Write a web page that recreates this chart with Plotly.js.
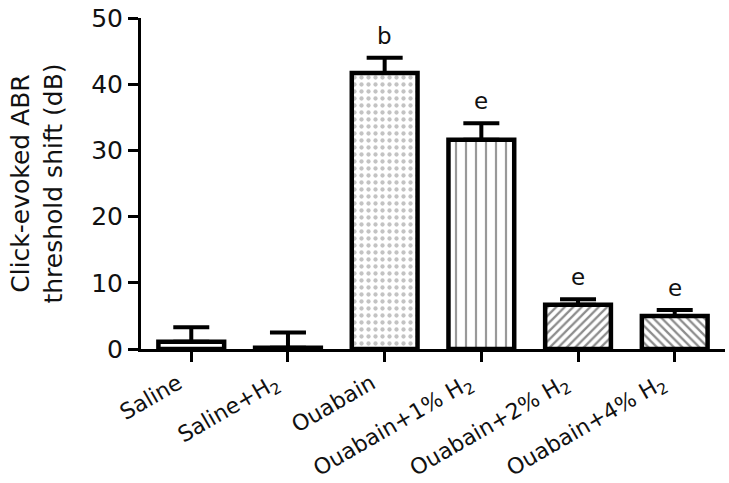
<!DOCTYPE html>
<html><head><meta charset="utf-8">
<script src="https://cdn.plot.ly/plotly-3.0.1.min.js"></script>
<style>html,body{margin:0;padding:0;background:#fff}#chart{width:729px;height:483px}</style>
</head><body><div id="chart"></div>
<script>
const categories = ["Saline", "Saline+H2", "Ouabain", "Ouabain+1% H2", "Ouabain+2% H2", "Ouabain+4% H2"];
const tickLabels = ["Saline", "Saline+H<sub>2</sub>", "Ouabain", "Ouabain+1% H<sub>2</sub>", "Ouabain+2% H<sub>2</sub>", "Ouabain+4% H<sub>2</sub>"];
const means = [1.1, 0.2, 41.7, 31.6, 6.7, 5.0];
const sem = [2.2, 2.3, 2.3, 2.5, 0.8, 0.9];
const sigLetters = ["", "", "b", "e", "e", "e"];
const patterns = ["", "", ".", "|", "/", "\\"];

const x = categories.map((c, i) => i);
const trace = {
  type: "bar",
  x: x,
  y: means,
  width: 0.68,
  marker: {
    color: "#ffffff",
    line: {color: "#000", width: 4.5},
    pattern: {shape: patterns, fgcolor: ["#000","#000","#888","#333","#1a1a1a","#1a1a1a"], bgcolor: "#fff",
              size: [8,8,7,10,6,6], solidity: [0.3,0.3,0.3,0.22,0.38,0.38], fillmode: "overlay"}
  },
  error_y: {type: "data", symmetric: false, array: sem, arrayminus: sem.map(() => 0), color: "#000", thickness: 4, width: 18},
  hoverinfo: "none"
};

const annotations = sigLetters.map((t, i) => t ? {
  x: i, y: means[i] + sem[i], yshift: 7, text: t, showarrow: false,
  font: {family: "DejaVu Sans", size: 23, color: "#111"}, xanchor: "center", yanchor: "bottom"
} : null).filter(a => a);

const layout = {
  width: 729, height: 483,
  margin: {l: 141, r: 4, t: 18, b: 134},
  paper_bgcolor: "#fff", plot_bgcolor: "#fff",
  showlegend: false,
  font: {family: "DejaVu Sans", color: "#111"},
  xaxis: {
    range: [-0.52, 5.52], tickmode: "array", tickvals: x, ticktext: tickLabels,
    tickangle: -30, ticks: "outside", ticklen: 10, tickwidth: 3, tickcolor: "#000",
    ticklabelshift: -13,
    showline: true, linecolor: "#000", linewidth: 3, showgrid: false, zeroline: false,
    tickfont: {family: "DejaVu Sans", size: 22, color: "#111"}
  },
  yaxis: {
    range: [0, 50], dtick: 10, ticks: "outside", ticklen: 10, tickwidth: 3, tickcolor: "#000",
    showline: true, linecolor: "#000", linewidth: 3, showgrid: false, zeroline: false,
    tickfont: {family: "DejaVu Sans", size: 25, color: "#111"},
    title: {text: "Click-evoked ABR<br>threshold shift (dB)", font: {family: "DejaVu Sans", size: 25, color: "#111"}, standoff: 22}
  },
  annotations: annotations
};
Plotly.newPlot("chart", [trace], layout, {displayModeBar: false, staticPlot: true});
</script></body></html>
